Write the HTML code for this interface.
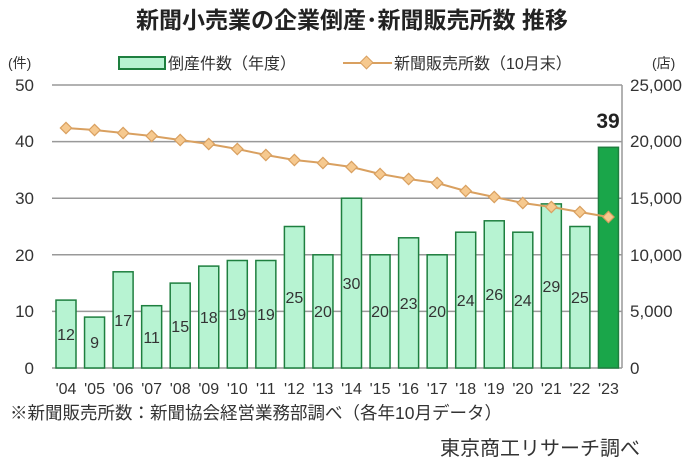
<!DOCTYPE html><html><head><meta charset="utf-8"><style>body{margin:0;background:#fff}svg{display:block}text{font-family:"Liberation Sans","Noto Sans CJK JP",sans-serif}</style></head><body>
<svg width="700" height="470" xmlns="http://www.w3.org/2000/svg">
<text x="352" y="28" font-size="23" font-weight="bold" text-anchor="middle" fill="#222">新聞小売業の企業倒産･新聞販売所数 推移</text>
<text x="8" y="68" font-size="14" fill="#333">(件)</text>
<text x="652" y="68" font-size="14" fill="#333">(店)</text>
<rect x="119" y="57" width="46" height="12" fill="#b7f3d2" stroke="#1e7f3f" stroke-width="2"/>
<text x="168" y="69" font-size="16" fill="#333">倒産件数（年度）</text>
<line x1="343" y1="63" x2="392" y2="63" stroke="#d9a060" stroke-width="2"/>
<rect x="362" y="58" width="9" height="9" transform="rotate(45 366.5 62.5)" fill="#f6c98f" stroke="#d9a060"/>
<text x="394" y="69" font-size="16" fill="#333">新聞販売所数（10月末）</text>
<g stroke="#999" stroke-width="1.5">
<line x1="52" y1="85" x2="622" y2="85"/><line x1="52" y1="141.6" x2="622" y2="141.6"/><line x1="52" y1="198.2" x2="622" y2="198.2"/><line x1="52" y1="254.8" x2="622" y2="254.8"/><line x1="52" y1="311.4" x2="622" y2="311.4"/><line x1="52" y1="368" x2="622" y2="368"/><line x1="622" y1="85" x2="622" y2="368"/>
</g>
<g font-size="17" fill="#333">
<text x="34" y="91" text-anchor="end">50</text><text x="34" y="147" text-anchor="end">40</text><text x="34" y="204" text-anchor="end">30</text><text x="34" y="261" text-anchor="end">20</text><text x="34" y="317" text-anchor="end">10</text><text x="34" y="374" text-anchor="end">0</text>
<text x="630" y="91">25,000</text><text x="630" y="147">20,000</text><text x="630" y="204">15,000</text><text x="630" y="261">10,000</text><text x="630" y="317">5,000</text><text x="630" y="374">0</text>
</g>
<g fill="#b7f3d2" stroke="#1e7f3f" stroke-width="1.5">
<rect x="56" y="300.1" width="20" height="67.9"/>
<rect x="84.55" y="317.1" width="20" height="50.9"/>
<rect x="113.1" y="271.8" width="20" height="96.2"/>
<rect x="141.65" y="305.7" width="20" height="62.3"/>
<rect x="170.2" y="283.1" width="20" height="84.9"/>
<rect x="198.75" y="266.1" width="20" height="101.9"/>
<rect x="227.3" y="260.5" width="20" height="107.5"/>
<rect x="255.85" y="260.5" width="20" height="107.5"/>
<rect x="284.4" y="226.5" width="20" height="141.5"/>
<rect x="312.95" y="254.8" width="20" height="113.2"/>
<rect x="341.5" y="198.2" width="20" height="169.8"/>
<rect x="370.05" y="254.8" width="20" height="113.2"/>
<rect x="398.6" y="237.8" width="20" height="130.2"/>
<rect x="427.15" y="254.8" width="20" height="113.2"/>
<rect x="455.7" y="232.2" width="20" height="135.8"/>
<rect x="484.25" y="220.8" width="20" height="147.2"/>
<rect x="512.8" y="232.2" width="20" height="135.8"/>
<rect x="541.35" y="203.9" width="20" height="164.1"/>
<rect x="569.9" y="226.5" width="20" height="141.5"/>
<rect x="598.45" y="147.3" width="20" height="220.7" fill="#1aa64a"/>
</g>
<g font-size="16" fill="#333" text-anchor="middle">
<text x="66" y="340">12</text><text x="94.55" y="348">9</text><text x="123.1" y="326">17</text><text x="151.65" y="343">11</text><text x="180.2" y="332">15</text><text x="208.75" y="323">18</text><text x="237.3" y="320">19</text><text x="265.85" y="320">19</text><text x="294.4" y="303">25</text><text x="322.95" y="317">20</text><text x="351.5" y="289">30</text><text x="380.05" y="317">20</text><text x="408.6" y="309">23</text><text x="437.15" y="317">20</text><text x="465.7" y="306">24</text><text x="494.25" y="300">26</text><text x="522.8" y="306">24</text><text x="551.35" y="292">29</text><text x="579.9" y="303">25</text>
</g>
<g font-size="16" fill="#333" text-anchor="middle">
<text x="66" y="394">'04</text><text x="94.55" y="394">'05</text><text x="123.1" y="394">'06</text><text x="151.65" y="394">'07</text><text x="180.2" y="394">'08</text><text x="208.75" y="394">'09</text><text x="237.3" y="394">'10</text><text x="265.85" y="394">'11</text><text x="294.4" y="394">'12</text><text x="322.95" y="394">'13</text><text x="351.5" y="394">'14</text><text x="380.05" y="394">'15</text><text x="408.6" y="394">'16</text><text x="437.15" y="394">'17</text><text x="465.7" y="394">'18</text><text x="494.25" y="394">'19</text><text x="522.8" y="394">'20</text><text x="551.35" y="394">'21</text><text x="579.9" y="394">'22</text><text x="608.45" y="394">'23</text>
</g>
<polyline points="66,128 94.55,130 123.1,133 151.65,136 180.2,140 208.75,144 237.3,149 265.85,155 294.4,160 322.95,163 351.5,167 380.05,174 408.6,179 437.15,183 465.7,191 494.25,197 522.8,203 551.35,207 579.9,212 608.45,217" fill="none" stroke="#d9a060" stroke-width="2"/>
<g fill="#f6c98f" stroke="#d9a060" stroke-width="1.2">
<rect x="62" y="124" width="8" height="8" transform="rotate(45 66 128)"/>
<rect x="90.55" y="126" width="8" height="8" transform="rotate(45 94.55 130)"/>
<rect x="119.1" y="129" width="8" height="8" transform="rotate(45 123.1 133)"/>
<rect x="147.65" y="132" width="8" height="8" transform="rotate(45 151.65 136)"/>
<rect x="176.2" y="136" width="8" height="8" transform="rotate(45 180.2 140)"/>
<rect x="204.75" y="140" width="8" height="8" transform="rotate(45 208.75 144)"/>
<rect x="233.3" y="145" width="8" height="8" transform="rotate(45 237.3 149)"/>
<rect x="261.85" y="151" width="8" height="8" transform="rotate(45 265.85 155)"/>
<rect x="290.4" y="156" width="8" height="8" transform="rotate(45 294.4 160)"/>
<rect x="318.95" y="159" width="8" height="8" transform="rotate(45 322.95 163)"/>
<rect x="347.5" y="163" width="8" height="8" transform="rotate(45 351.5 167)"/>
<rect x="376.05" y="170" width="8" height="8" transform="rotate(45 380.05 174)"/>
<rect x="404.6" y="175" width="8" height="8" transform="rotate(45 408.6 179)"/>
<rect x="433.15" y="179" width="8" height="8" transform="rotate(45 437.15 183)"/>
<rect x="461.7" y="187" width="8" height="8" transform="rotate(45 465.7 191)"/>
<rect x="490.25" y="193" width="8" height="8" transform="rotate(45 494.25 197)"/>
<rect x="518.8" y="199" width="8" height="8" transform="rotate(45 522.8 203)"/>
<rect x="547.35" y="203" width="8" height="8" transform="rotate(45 551.35 207)"/>
<rect x="575.9" y="208" width="8" height="8" transform="rotate(45 579.9 212)"/>
<rect x="604.45" y="213" width="8" height="8" transform="rotate(45 608.45 217)"/>
</g>
<text x="608" y="128" font-size="21" font-weight="bold" text-anchor="middle" fill="#222">39</text>
<text x="10" y="419" font-size="17.5" fill="#333">※新聞販売所数：新聞協会経営業務部調べ（各年10月データ）</text>
<text x="440" y="455" font-size="20" fill="#333">東京商工リサーチ調べ</text>
</svg></body></html>
